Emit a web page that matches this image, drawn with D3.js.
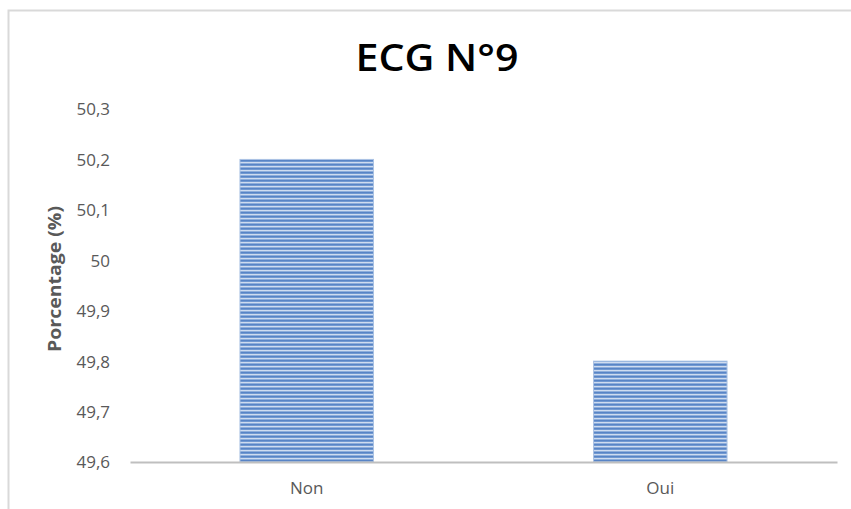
<!DOCTYPE html>
<html>
<head>
<meta charset="utf-8">
<script src="https://cdn.jsdelivr.net/npm/d3@7"></script>
<style>
  html, body { margin: 0; padding: 0; background: #fff; }
  svg { display: block; }
</style>
</head>
<body>
<svg id="chart" width="851" height="509"></svg>
<script>
// ECG N°9 — share of patients (%) by answer
const categories = ["Non", "Oui"];
const values = [50.2, 49.8];
const yTicks = [49.6, 49.7, 49.8, 49.9, 50.0, 50.1, 50.2, 50.3];
const titleText = "ECG N°9";
const yAxisTitle = "Porcentage (%)";

const width = 851, height = 509;
const margin = { top: 109, right: 14, bottom: 47, left: 130 };
const svg = d3.select("#chart");

// chart frame
svg.append("path")
  .attr("d", `M8.5,${height} V10.5 H${width}`)
  .attr("fill", "none")
  .attr("stroke", "#d9d9d9")
  .attr("stroke-width", 2);

// horizontal stripe fill for the bars
const defs = svg.append("defs");
const pat = defs.append("pattern")
  .attr("id", "stripes")
  .attr("patternUnits", "userSpaceOnUse")
  .attr("width", 8).attr("height", 4);
const rows = ["#5884c6", "#7199d1", "#cfdcf0", "#8eaedb"];
rows.forEach((c, i) => pat.append("rect")
  .attr("x", 0).attr("y", i).attr("width", 8).attr("height", 1).attr("fill", c));

const x = d3.scaleBand()
  .domain(categories)
  .range([margin.left, width - margin.right])
  .paddingInner(0.6225)
  .paddingOuter(0.311);

const y = d3.scaleLinear()
  .domain([49.6, 50.3])
  .range([height - margin.bottom, margin.top]);

const fmt = d => d3.format(".1f")(d).replace(/\.0$/, "").replace(".", ",");

// y tick labels (no axis line or gridlines)
const yAxis = d3.axisLeft(y).tickValues(yTicks).tickFormat(fmt).tickSize(0).tickPadding(0);
const gy = svg.append("g")
  .attr("transform", `translate(${margin.left - 20},0)`)
  .call(yAxis);
gy.select(".domain").remove();
gy.selectAll("text")
  .attr("fill", "#595959")
  .attr("font-family", "'Open Sans', sans-serif")
  .attr("font-size", 17)
  .attr("dy", "0.35em");

// bars
svg.append("g").selectAll("rect")
  .data(categories.map((c, i) => ({ c, v: values[i] })))
  .join("rect")
  .attr("x", d => x(d.c))
  .attr("y", d => y(d.v))
  .attr("width", x.bandwidth())
  .attr("height", d => y(49.6) - y(d.v))
  .attr("fill", "url(#stripes)")
  .attr("stroke", "#a9c1e3")
  .attr("stroke-width", 1);

// x axis
const xAxis = d3.axisBottom(x).tickSize(0).tickPadding(20);
const gx = svg.append("g")
  .attr("transform", `translate(0,${y(49.6)})`)
  .call(xAxis);
gx.select(".domain")
  .attr("stroke", "#bfbfbf")
  .attr("stroke-width", 2);
gx.selectAll("text")
  .attr("fill", "#595959")
  .attr("font-family", "'Open Sans', sans-serif")
  .attr("font-size", 17);

// title
svg.append("text")
  .attr("x", 437)
  .attr("y", 71)
  .attr("text-anchor", "middle")
  .attr("font-family", "'Open Sans', sans-serif")
  .attr("font-weight", 600)
  .attr("font-size", 38)
  .attr("textLength", 163)
  .attr("lengthAdjust", "spacingAndGlyphs")
  .attr("fill", "#000")
  .text(titleText);

// y axis title
svg.append("text")
  .attr("transform", `translate(61,279) rotate(-90)`)
  .attr("text-anchor", "middle")
  .attr("font-family", "'Open Sans', sans-serif")
  .attr("font-weight", "bold")
  .attr("font-size", 17)
  .attr("textLength", 146)
  .attr("lengthAdjust", "spacingAndGlyphs")
  .attr("fill", "#595959")
  .text(yAxisTitle);
</script>
</body>
</html>
